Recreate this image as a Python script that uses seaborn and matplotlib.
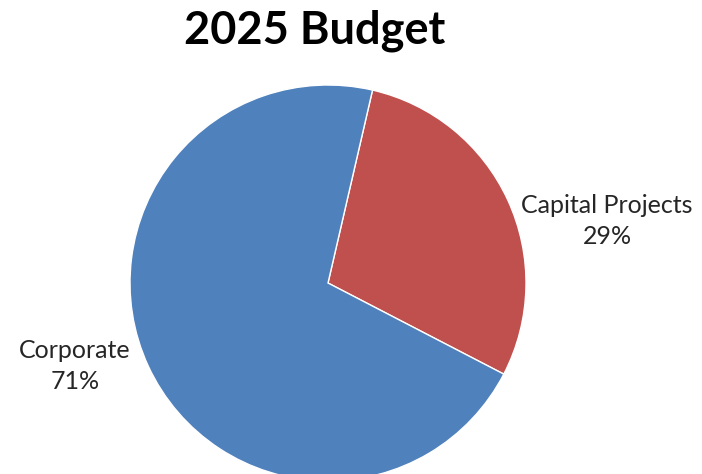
import matplotlib
matplotlib.use("Agg")
import matplotlib.pyplot as plt
import seaborn as sns

# data
categories = ["Capital Projects", "Corporate"]
values = [29, 71]
pct_labels = ["29%", "71%"]
title = "2025 Budget"

sns.set_theme(style="white")
plt.rcParams['font.family'] = ['Lato', 'DejaVu Sans']

W, H = 702, 474
fig = plt.figure(figsize=(W / 100, H / 100), dpi=100)
ax = fig.add_axes([0, 0, 1, 1])

colors = ["#C0504D", "#4F81BD"]
ax.pie(values, colors=colors, startangle=77, counterclock=False,
       center=(328, H - 283), radius=198,
       wedgeprops=dict(edgecolor="white", linewidth=1))
ax.set_xlim(0, W)
ax.set_ylim(0, H)
ax.set_aspect("equal")
ax.axis("off")

label_pos = [(607, 221), (75, 366)]
for cat, pct, (x, y) in zip(categories, pct_labels, label_pos):
    ax.text(x, H - y, f"{cat}\n{pct}", ha="center", va="center",
            fontsize=18, color="#262626", linespacing=1.45)

fig.text(315 / W, 1 - 43 / H, title, ha="center", va="baseline",
         fontsize=32.5, fontweight="bold", color="black")

fig.savefig("out.png", dpi=100)
